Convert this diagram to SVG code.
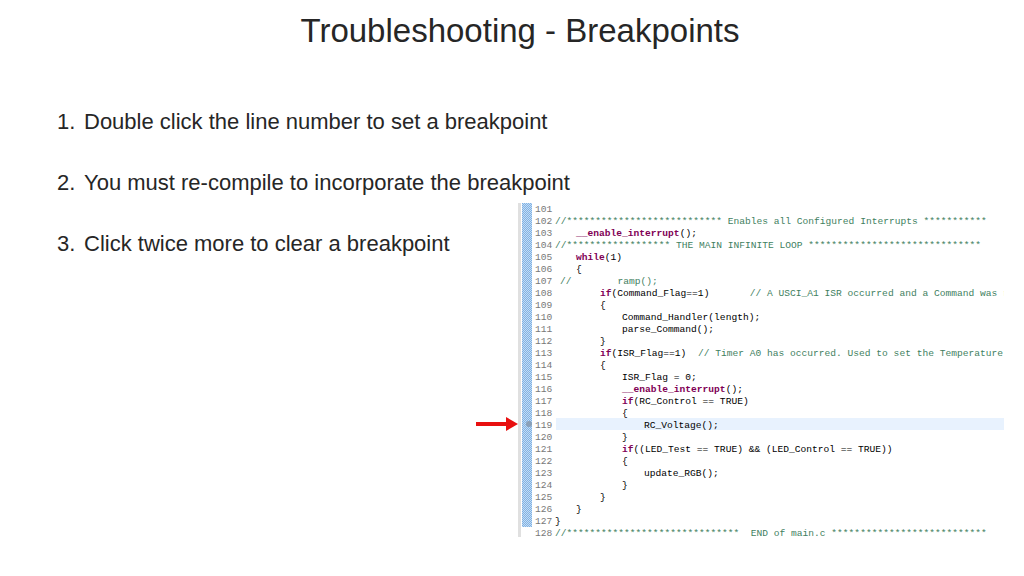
<svg xmlns="http://www.w3.org/2000/svg" width="1024" height="576" viewBox="0 0 1024 576" xml:space="preserve">
<defs>
<style>
.t{font-family:"Liberation Sans",Arial,sans-serif;fill:#262626}
.c{font-family:"Liberation Mono","DejaVu Sans Mono",monospace;font-size:9.6px;fill:#000;white-space:pre}
.n{font-family:"Liberation Mono",monospace;font-size:9.6px;fill:#787878}
.g{fill:#3f7f5f}
.k{fill:#7f0055;font-weight:bold}
</style>
<pattern id="dots" width="2" height="2" patternUnits="userSpaceOnUse"><rect width="2" height="2" fill="#7fb2e5"/><rect width="1" height="1" fill="#c5dcf3"/><rect x="1" y="1" width="1" height="1" fill="#c5dcf3"/></pattern>
<clipPath id="clip"><rect x="518" y="203" width="486" height="334"/></clipPath>
</defs>
<rect width="1024" height="576" fill="#fff"/>
<text class="t" x="520" y="42" font-size="33" text-anchor="middle" font-family="Open Sans, sans-serif" font-weight="300">Troubleshooting - Breakpoints</text>
<g class="t" font-size="22">
<text x="57" y="129">1.</text><text x="84" y="129">Double click the line number to set a breakpoint</text>
<text x="57" y="190">2.</text><text x="84" y="190">You must re-compile to incorporate the breakpoint</text>
<text x="57" y="251">3.</text><text x="84" y="251">Click twice more to clear a breakpoint</text>
</g>
<g id="screenshot" clip-path="url(#clip)">
<rect x="518" y="203" width="486" height="334" fill="#fff"/>
<rect x="518" y="203" width="3" height="334" fill="#e0e0e0"/>
<rect x="522" y="203" width="10" height="324" fill="url(#dots)"/>
<rect x="556" y="418" width="448" height="12" fill="#e8f2fe"/>
<circle cx="529" cy="424" r="3" fill="#8aa0b8"/>
<g class="n">
<text x="535" y="212">101</text><text x="535" y="224">102</text><text x="535" y="236">103</text><text x="535" y="248">104</text><text x="535" y="260">105</text><text x="535" y="272">106</text><text x="535" y="284">107</text><text x="535" y="296">108</text><text x="535" y="308">109</text><text x="535" y="320">110</text><text x="535" y="332">111</text><text x="535" y="344">112</text><text x="535" y="356">113</text><text x="535" y="368">114</text><text x="535" y="380">115</text><text x="535" y="392">116</text><text x="535" y="404">117</text><text x="535" y="416">118</text><text x="535" y="428">119</text><text x="535" y="440">120</text><text x="535" y="452">121</text><text x="535" y="464">122</text><text x="535" y="476">123</text><text x="535" y="488">124</text><text x="535" y="500">125</text><text x="535" y="512">126</text><text x="535" y="524">127</text><text x="535" y="536">128</text>
</g>
<g class="c">
<text x="555" y="224" class="c g">//*************************** Enables all Configured Interrupts ***********</text>
<text x="576" y="236" class="c k">__enable_interrupt<tspan fill="#000" font-weight="normal">();</tspan></text>
<text x="555" y="248" class="c g">//****************** THE MAIN INFINITE LOOP ******************************</text>
<text x="576" y="260" class="c"><tspan class="k">while</tspan>(1)</text>
<text x="576" y="272" class="c">{</text>
<text x="560" y="284" class="c g">//        ramp();</text>
<text x="600" y="296" class="c"><tspan class="k">if</tspan>(Command_Flag==1)       <tspan class="g">// A USCI_A1 ISR occurred and a Command was r</tspan></text>
<text x="600" y="308" class="c">{</text>
<text x="622" y="320" class="c">Command_Handler(length);</text>
<text x="622" y="332" class="c">parse_Command();</text>
<text x="600" y="344" class="c">}</text>
<text x="600" y="356" class="c"><tspan class="k">if</tspan>(ISR_Flag==1)  <tspan class="g">// Timer A0 has occurred. Used to set the Temperature u</tspan></text>
<text x="600" y="368" class="c">{</text>
<text x="622" y="380" class="c">ISR_Flag = 0;</text>
<text x="622" y="392" class="c k">__enable_interrupt<tspan fill="#000" font-weight="normal">();</tspan></text>
<text x="622" y="404" class="c"><tspan class="k">if</tspan>(RC_Control == TRUE)</text>
<text x="622" y="416" class="c">{</text>
<text x="644" y="428" class="c">RC_Voltage();</text>
<text x="622" y="440" class="c">}</text>
<text x="622" y="452" class="c"><tspan class="k">if</tspan>((LED_Test == TRUE) &amp;&amp; (LED_Control == TRUE))</text>
<text x="622" y="464" class="c">{</text>
<text x="644" y="476" class="c">update_RGB();</text>
<text x="622" y="488" class="c">}</text>
<text x="600" y="500" class="c">}</text>
<text x="576" y="512" class="c">}</text>
<text x="555" y="524" class="c">}</text>
<text x="555" y="536" class="c g">//******************************  END of main.c ***************************</text>
</g>
</g>
<g id="arrow">
<line x1="476" y1="424" x2="508" y2="424" stroke="#e81010" stroke-width="4"/>
<polygon points="506,417 518,424 506,431" fill="#e81010"/>
</g>
</svg>
